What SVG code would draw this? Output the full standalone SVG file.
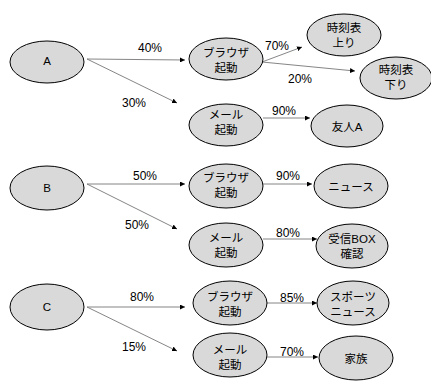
<svg xmlns="http://www.w3.org/2000/svg" width="431" height="381" viewBox="0 0 431 381">
<defs>
<marker id="ah" viewBox="0 0 6 6" refX="6" refY="3" markerWidth="5" markerHeight="5" markerUnits="userSpaceOnUse" orient="auto">
<path d="M0,0 L6,3 L0,6 z" fill="#000"/>
</marker>
<style>
.n ellipse{fill:#d9d9d9;stroke:#000;stroke-width:1}
.n text{font-family:"Liberation Sans","Noto Sans CJK JP",sans-serif;font-size:11.5px;text-anchor:middle;dominant-baseline:central;fill:#000}
.c line{stroke:#777;stroke-width:0.9;marker-end:url(#ah)}
.c text{font-family:"Liberation Sans",sans-serif;font-size:12px;text-anchor:middle;fill:#000}
</style>
</defs>
<rect width="431" height="381" fill="#fff"/>
<g class="c" id="connectors">
<line x1="87" y1="59" x2="185" y2="60"/><text x="150" y="52">40%</text>
<line x1="87" y1="59" x2="177" y2="103"/><text x="134" y="107">30%</text>
<line x1="262" y1="62" x2="302" y2="47"/><text x="277" y="50">70%</text>
<line x1="262" y1="62" x2="355" y2="71"/><text x="300" y="83">20%</text>
<line x1="263" y1="118" x2="310" y2="118"/><text x="284" y="115">90%</text>
<line x1="87" y1="184" x2="185" y2="184"/><text x="145" y="180">50%</text>
<line x1="87" y1="184" x2="177" y2="229"/><text x="137" y="229">50%</text>
<line x1="263" y1="184" x2="312" y2="184"/><text x="288" y="180">90%</text>
<line x1="263" y1="239" x2="317" y2="239"/><text x="288" y="237">80%</text>
<line x1="87" y1="307" x2="185" y2="307"/><text x="142" y="301">80%</text>
<line x1="87" y1="307" x2="177" y2="351"/><text x="134" y="351">15%</text>
<line x1="267" y1="303" x2="317" y2="303"/><text x="292" y="302">85%</text>
<line x1="267" y1="357" x2="318" y2="357"/><text x="292" y="356">70%</text>
</g>
<g class="n" id="nA"><ellipse cx="47" cy="62" rx="37" ry="21"/><text x="47" y="61">A</text></g>
<g class="n" id="nA_browser"><ellipse cx="226" cy="59" rx="37" ry="21"/><text x="226" y="53">ブラウザ</text><text x="226" y="68">起動</text></g>
<g class="n" id="nA_up"><ellipse cx="344" cy="35" rx="37" ry="21"/><text x="344" y="28">時刻表</text><text x="344" y="43">上り</text></g>
<g class="n" id="nA_down"><ellipse cx="396" cy="78" rx="36" ry="21"/><text x="396" y="70">時刻表</text><text x="396" y="85">下り</text></g>
<g class="n" id="nA_mail"><ellipse cx="226" cy="125" rx="37" ry="21"/><text x="226" y="115">メール</text><text x="226" y="130">起動</text></g>
<g class="n" id="nA_friend"><ellipse cx="347" cy="126" rx="36" ry="21"/><text x="347" y="127">友人A</text></g>
<g class="n" id="nB"><ellipse cx="47" cy="188" rx="37" ry="22"/><text x="47" y="188">B</text></g>
<g class="n" id="nB_browser"><ellipse cx="226" cy="186" rx="37" ry="22"/><text x="226" y="178">ブラウザ</text><text x="226" y="193">起動</text></g>
<g class="n" id="nB_news"><ellipse cx="351" cy="186" rx="37" ry="22"/><text x="351" y="187">ニュース</text></g>
<g class="n" id="nB_mail"><ellipse cx="226" cy="245" rx="37" ry="22"/><text x="226" y="238">メール</text><text x="226" y="253">起動</text></g>
<g class="n" id="nB_inbox"><ellipse cx="352" cy="246" rx="36" ry="22"/><text x="352" y="239">受信BOX</text><text x="352" y="254">確認</text></g>
<g class="n" id="nC"><ellipse cx="47" cy="307" rx="37" ry="23"/><text x="47" y="307">C</text></g>
<g class="n" id="nC_browser"><ellipse cx="230" cy="303" rx="37" ry="22"/><text x="230" y="297">ブラウザ</text><text x="230" y="312">起動</text></g>
<g class="n" id="nC_sports"><ellipse cx="353" cy="303" rx="36" ry="22"/><text x="353" y="297">スポーツ</text><text x="353" y="312">ニュース</text></g>
<g class="n" id="nC_mail"><ellipse cx="230" cy="355" rx="37" ry="22"/><text x="230" y="350">メール</text><text x="230" y="365">起動</text></g>
<g class="n" id="nC_family"><ellipse cx="356" cy="358" rx="37" ry="22"/><text x="356" y="359">家族</text></g>
</svg>
